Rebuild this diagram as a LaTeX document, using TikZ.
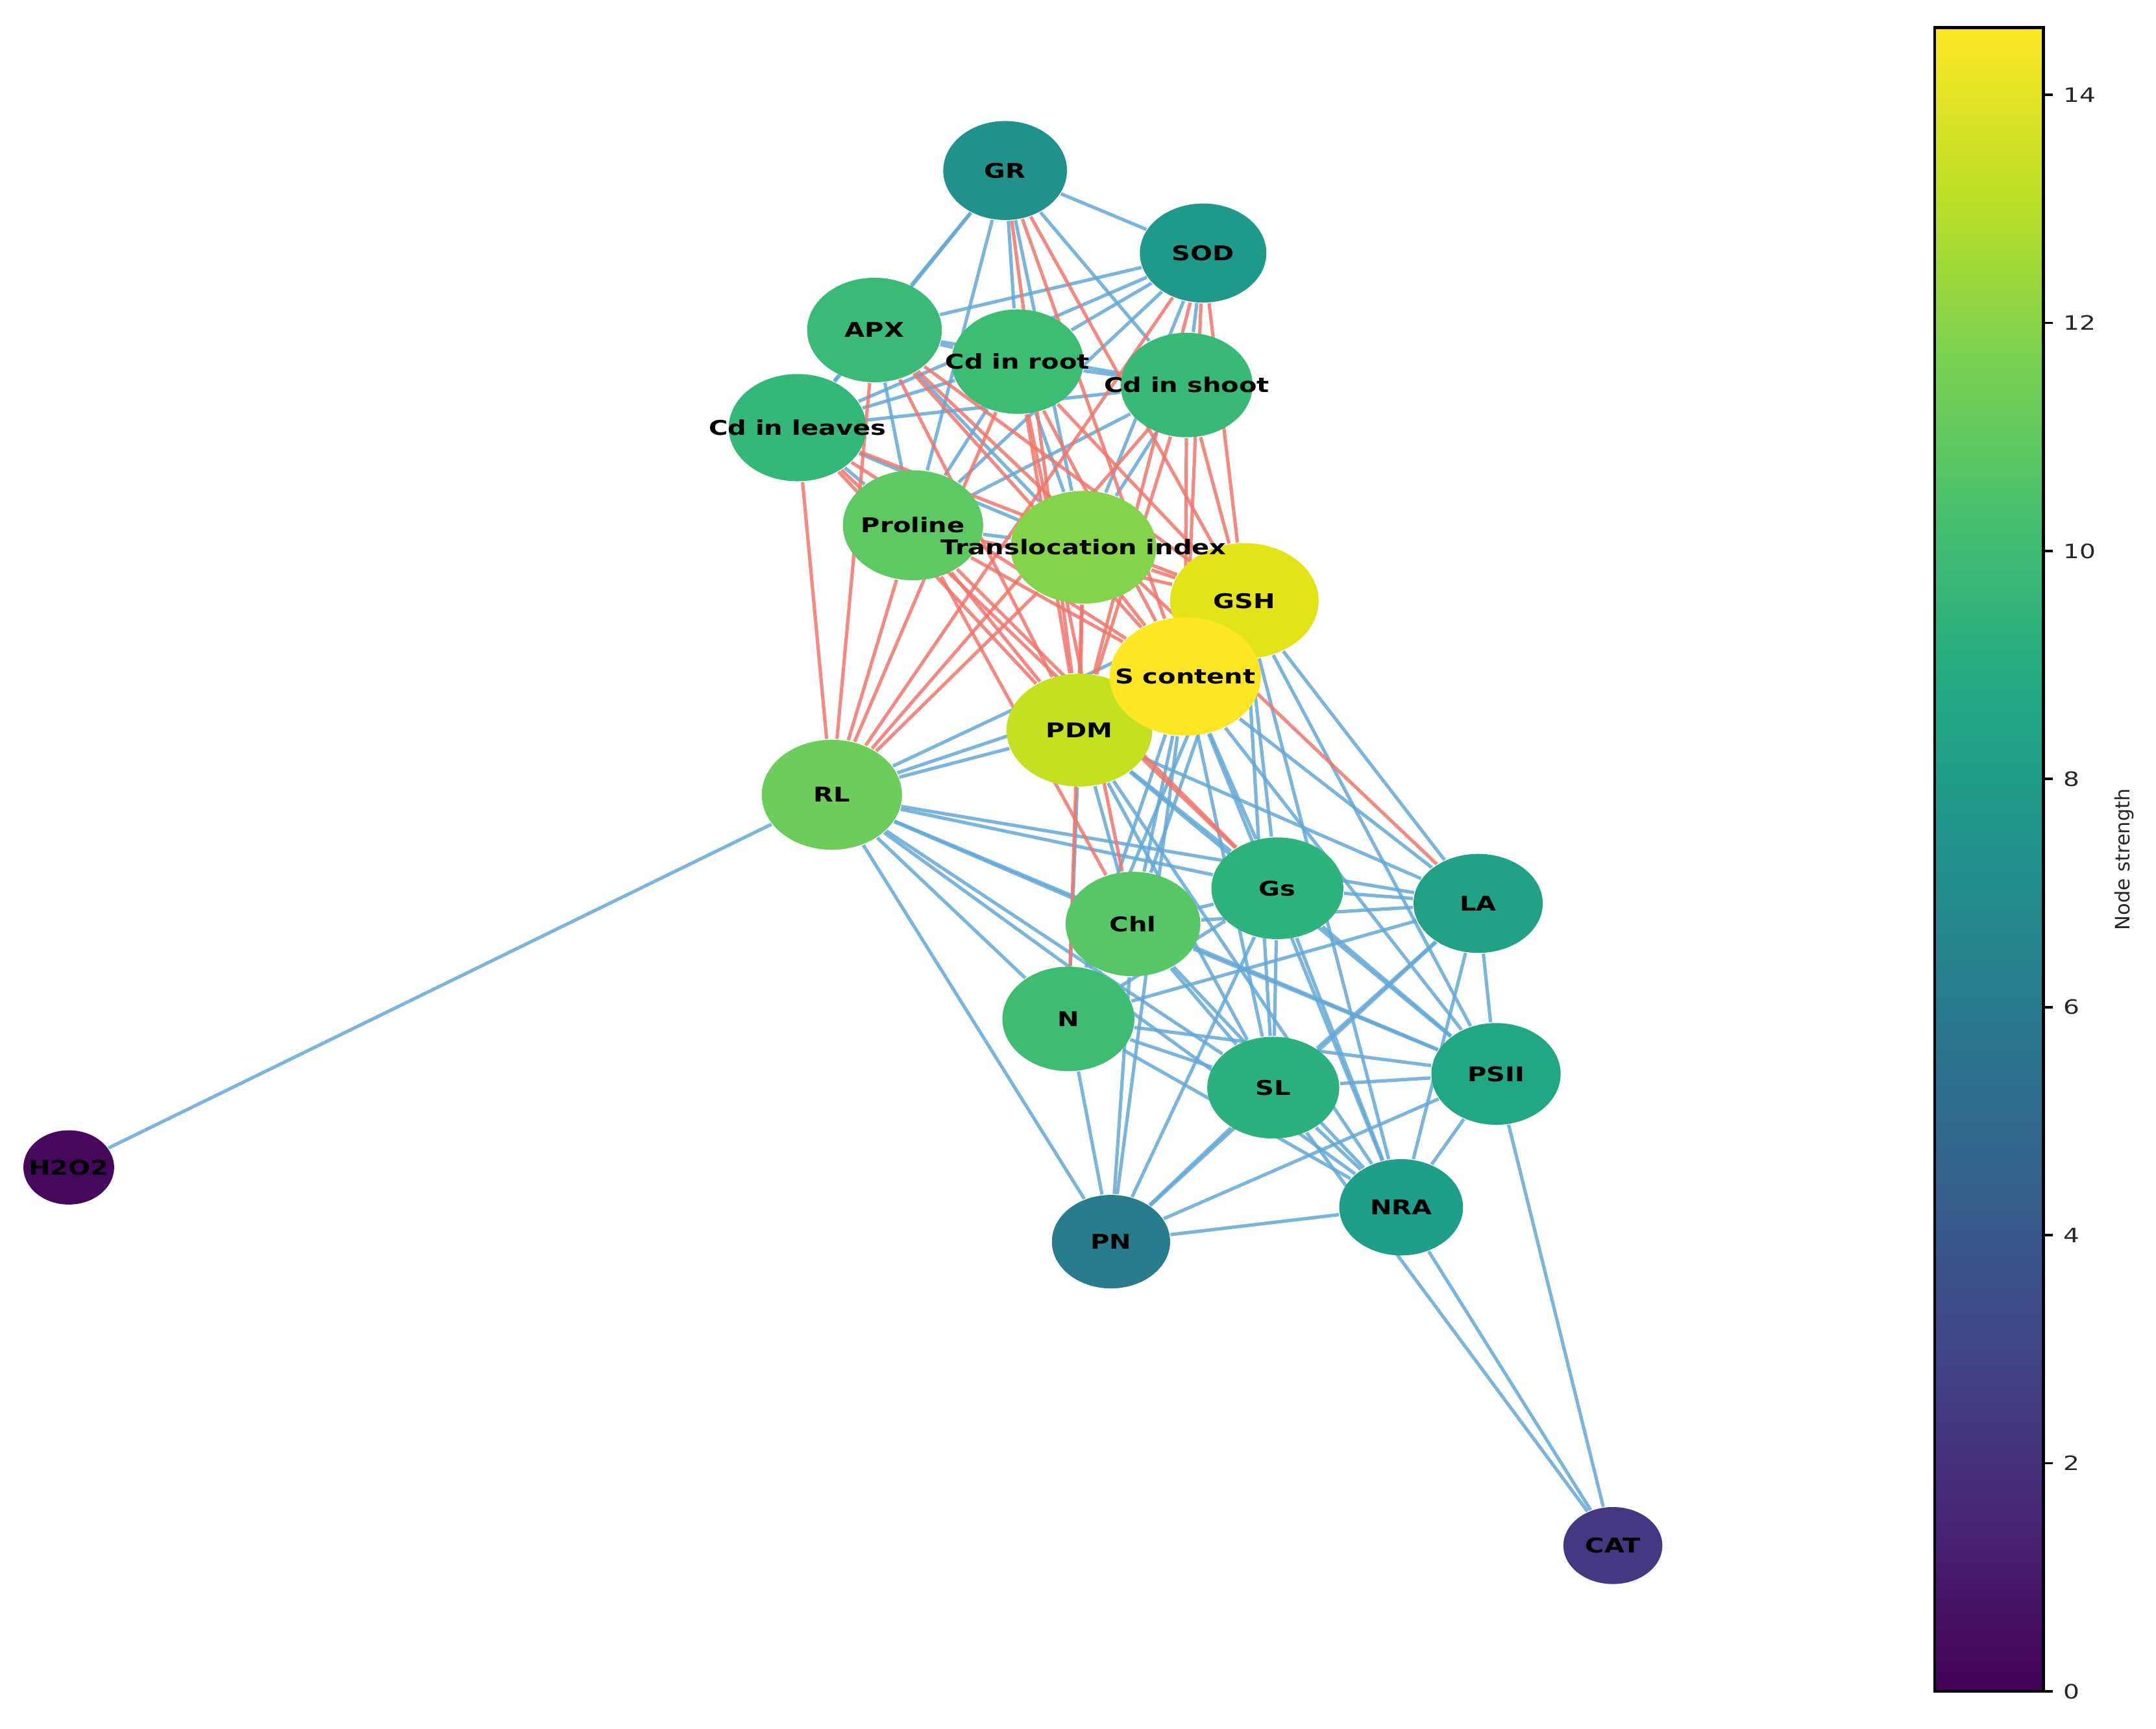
\documentclass[tikz,border=0pt]{standalone}
\usepackage{fontspec}
\setmainfont{DejaVu Sans}
\usepackage{graphicx}
\usetikzlibrary{shapes.geometric,backgrounds}
\definecolor{v0}{HTML}{440154}
\definecolor{v1}{HTML}{482475}
\definecolor{v2}{HTML}{414487}
\definecolor{v3}{HTML}{355F8D}
\definecolor{v4}{HTML}{2A788E}
\definecolor{v5}{HTML}{21918C}
\definecolor{v6}{HTML}{22A884}
\definecolor{v7}{HTML}{44BF70}
\definecolor{v8}{HTML}{7AD151}
\definecolor{v9}{HTML}{BDDF26}
\definecolor{v10}{HTML}{FDE725}
\pgfdeclareverticalshading{viridis}{100bp}{color(0bp)=(v0); color(25bp)=(v0); color(30bp)=(v1); color(35bp)=(v2); color(40bp)=(v3); color(45bp)=(v4); color(50bp)=(v5); color(55bp)=(v6); color(60bp)=(v7); color(65bp)=(v8); color(70bp)=(v9); color(75bp)=(v10); color(100bp)=(v10)}
\definecolor{cGR}{HTML}{21918C}
\definecolor{cSOD}{HTML}{1F9A8A}
\definecolor{cAPX}{HTML}{3ABA76}
\definecolor{cCdR}{HTML}{3DBC74}
\definecolor{cCdS}{HTML}{38B977}
\definecolor{cCdL}{HTML}{35B779}
\definecolor{cPro}{HTML}{5EC962}
\definecolor{cTI}{HTML}{84D44B}
\definecolor{cGSH}{HTML}{E2E418}
\definecolor{cS}{HTML}{FDE725}
\definecolor{cPDM}{HTML}{C5E021}
\definecolor{cRL}{HTML}{6CCD5A}
\definecolor{cChl}{HTML}{56C667}
\definecolor{cGs}{HTML}{2EB37C}
\definecolor{cLA}{HTML}{22A187}
\definecolor{cN}{HTML}{3FBC73}
\definecolor{cSL}{HTML}{2CB17E}
\definecolor{cPSII}{HTML}{22A785}
\definecolor{cHO}{HTML}{46085C}
\definecolor{cPN}{HTML}{297B8E}
\definecolor{cNRA}{HTML}{1F9E89}
\definecolor{cCAT}{HTML}{453781}
\definecolor{eblue}{RGB}{100,168,214}
\definecolor{ered}{RGB}{240,118,108}
\newcommand\lbl[1]{\scalebox{1.28}[1]{#1}}
\newcommand\vnode[6]{\node[nd, fill=#6, minimum width=#4*0.2mm, minimum height=#5*0.2mm] (#1) at (#2,#3) {};}
\tikzset{
  nd/.style={ellipse, inner sep=0pt, draw=none},
  lb/.style={font=\fontsize{4.2pt}{5pt}\selectfont\bfseries, inner sep=0pt, text=black},
  tk/.style={font=\fontsize{4.1pt}{5pt}\selectfont, inner sep=0pt, text=black!85},
  posedge/.style={draw=eblue, line width=0.7pt, opacity=0.85},
  negedge/.style={draw=ered, line width=0.7pt, opacity=0.85},
}
\begin{document}
\begin{tikzpicture}[x=0.1mm,y=-0.1mm]
\useasboundingbox (0,0) rectangle (1568,1257);
% nodes
\vnode{GR}{731}{124}{45}{36}{cGR}
\vnode{SOD}{875}{184}{46}{36}{cSOD}
\vnode{APX}{636}{240}{49}{38}{cAPX}
\vnode{CdR}{740}{263}{48}{38}{cCdR}
\vnode{CdS}{863}{280}{48}{38}{cCdS}
\vnode{CdL}{580}{311}{50}{39}{cCdL}
\vnode{Pro}{664}{382}{51}{40}{cPro}
\vnode{TI}{788}{398}{53}{41}{cTI}
\vnode{GSH}{905}{437}{54}{42}{cGSH}
\vnode{PDM}{785}{531}{53}{41}{cPDM}
\vnode{S}{862}{492}{55}{43}{cS}
\vnode{RL}{605}{578}{51}{40}{cRL}
\vnode{Chl}{824}{672}{49}{38}{cChl}
\vnode{Gs}{929}{646}{48}{37}{cGs}
\vnode{LA}{1075}{657}{47}{36}{cLA}
\vnode{N}{777}{741}{48}{38}{cN}
\vnode{SL}{926}{791}{48}{37}{cSL}
\vnode{PSII}{1088}{781}{47}{37}{cPSII}
\vnode{HO}{50}{849}{33}{27}{cHO}
\vnode{PN}{808}{903}{43}{34}{cPN}
\vnode{NRA}{1019}{878}{45}{35}{cNRA}
\vnode{CAT}{1173}{1124}{36}{28}{cCAT}
% edges
\begin{pgfonlayer}{background}
\foreach \a/\b in {GR/SOD,GR/APX,GR/CdR,GR/CdL,GR/Pro,GR/CdS,GR/TI,
  SOD/APX,SOD/CdR,SOD/CdL,SOD/Pro,SOD/CdS,SOD/TI,
  APX/CdR,APX/CdS,APX/CdL,APX/Pro,APX/TI,
  CdR/CdS,CdR/CdL,CdR/Pro,CdR/TI,CdS/CdL,CdS/Pro,CdS/TI,CdL/Pro,CdL/TI,Pro/TI,
  GSH/S,GSH/PDM,S/PDM,
  RL/PDM,RL/S,RL/GSH,RL/Chl,RL/Gs,RL/LA,RL/N,RL/SL,RL/PSII,RL/NRA,RL/PN,RL/HO,
  PDM/Chl,PDM/Gs,PDM/LA,PDM/N,PDM/SL,PDM/PSII,PDM/NRA,
  S/Chl,S/Gs,S/LA,S/N,S/SL,S/PSII,S/NRA,S/PN,
  GSH/Chl,GSH/Gs,GSH/LA,GSH/SL,GSH/PSII,GSH/NRA,GSH/N,
  Chl/Gs,Chl/LA,Chl/N,Chl/SL,Chl/PSII,Chl/NRA,Chl/PN,
  Gs/LA,Gs/N,Gs/SL,Gs/PSII,Gs/NRA,Gs/PN,
  LA/N,LA/SL,LA/PSII,LA/NRA,LA/PN,
  N/SL,N/PSII,N/NRA,N/PN,
  SL/PSII,SL/NRA,SL/PN,PSII/NRA,PSII/PN,NRA/PN,
  CAT/NRA,CAT/SL,CAT/PSII}
  \draw[posedge] (\a) -- (\b);
\foreach \a/\b in {CdL/RL,APX/RL,Pro/RL,CdR/RL,TI/RL,CdS/RL,SOD/RL,
  CdL/PDM,APX/PDM,Pro/PDM,CdR/PDM,TI/PDM,CdS/PDM,GR/PDM,SOD/PDM,
  GR/GSH,SOD/GSH,APX/GSH,CdR/GSH,CdS/GSH,CdL/GSH,Pro/GSH,TI/GSH,
  GR/S,SOD/S,APX/S,CdR/S,CdS/S,CdL/S,Pro/S,TI/S,
  Pro/Chl,CdR/Chl,TI/N,Pro/Gs,CdL/Gs,APX/LA}
  \draw[negedge] (\a) -- (\b);
\end{pgfonlayer}
% labels
\foreach \n/\t in {GR/GR,SOD/SOD,APX/APX,CdR/Cd in root,CdS/Cd in shoot,CdL/Cd in leaves,
  Pro/Proline,TI/Translocation index,GSH/GSH,S/S content,PDM/PDM,RL/RL,Chl/Chl,Gs/Gs,
  LA/LA,N/N,SL/SL,PSII/PSII,HO/H2O2,PN/PN,NRA/NRA,CAT/CAT}
  \node[lb] (\n-t) at (\n) {\lbl{\t}};
% colorbar
\shade[shading=viridis] (1407,20) rectangle (1486,1230);
\draw[line width=0.6pt] (1407,20) rectangle (1486,1230);
\foreach \v in {0,2,...,14}{
  \draw[line width=0.5pt] (1486,{1230-\v*82.93}) -- ++(7,0) coordinate (tc\v);
  \node[tk, anchor=west] (tl\v) at ([xshift=0.7mm]tc\v) {\lbl{\v}};
}
\node[tk, rotate=90] (cbl) at (1545,625) {Node strength};
\end{tikzpicture}
\end{document}
